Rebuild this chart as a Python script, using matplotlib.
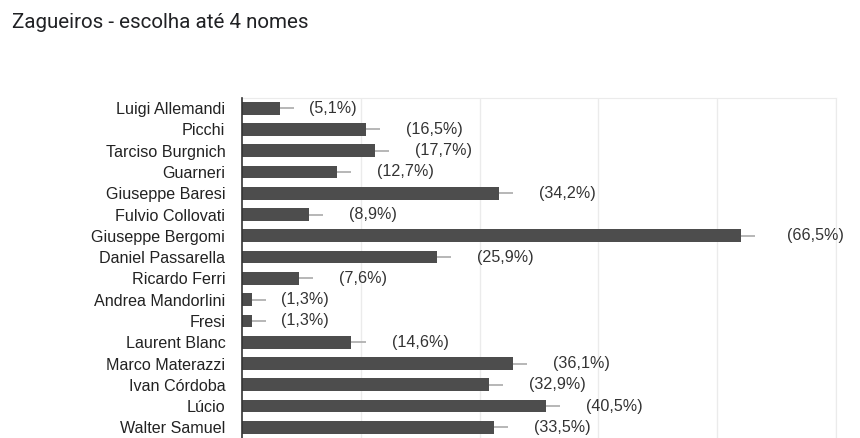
import matplotlib.pyplot as plt

# Data (counts out of 158 responses)
names = ["Luigi Allemandi", "Picchi", "Tarciso Burgnich", "Guarneri", "Giuseppe Baresi",
         "Fulvio Collovati", "Giuseppe Bergomi", "Daniel Passarella", "Ricardo Ferri",
         "Andrea Mandorlini", "Fresi", "Laurent Blanc", "Marco Materazzi", "Ivan Córdoba",
         "Lúcio", "Walter Samuel"]
counts = [8, 26, 28, 20, 54, 14, 105, 41, 12, 2, 2, 23, 57, 52, 64, 53]
pcts = ["5,1", "16,5", "17,7", "12,7", "34,2", "8,9", "66,5", "25,9", "7,6", "1,3",
        "1,3", "14,6", "36,1", "32,9", "40,5", "33,5"]

fig = plt.figure(figsize=(8.6, 4.38), dpi=100)
ax = fig.add_axes([242 / 860, 0, (836 - 242) / 860, 1 - 97.5 / 438])

y = list(range(len(names)))
ax.barh(y, counts, height=0.6, color="#4d4d4d", zorder=3)

# small grey stub past each bar end
ax.hlines(y, counts, [c + 3 for c in counts], color="#aaaaaa", lw=1.2, zorder=3)

gaps = {1: 15, 2: 26, 3: 32}
for yi, c, p in zip(y, counts, pcts):
    ax.annotate(f"({p}%)", xy=(c + 3, yi), xytext=(gaps[len(str(c))], 0),
                textcoords="offset pixels", va="center", ha="left",
                fontsize=11.6, color="#333333", family="Liberation Sans")

ax.set_xlim(0, 125)
ax.set_ylim(len(names) - 0.5, -0.5)
ax.set_xticks([25, 50, 75, 100, 125])
ax.tick_params(axis="x", length=0, labelbottom=False)
ax.xaxis.grid(True, color="#ebebeb", lw=1, zorder=0)
ax.set_yticks(y)
ax.set_yticklabels(names, fontsize=11.6, color="#222222", family="Liberation Sans")
ax.tick_params(axis="y", length=0, pad=12)

for s in ["top", "right"]:
    ax.spines[s].set_color("#ebebeb")
ax.spines["bottom"].set_visible(False)
ax.spines["left"].set_color("#333333")
ax.spines["left"].set_linewidth(1.2)
ax.spines["left"].set_zorder(4)

fig.text(12 / 860, 1 - 23 / 438, "Zagueiros - escolha até 4 nomes", fontsize=14.8,
         color="#202124", family="Roboto", va="center", ha="left")

fig.savefig("out.png", dpi=100)
